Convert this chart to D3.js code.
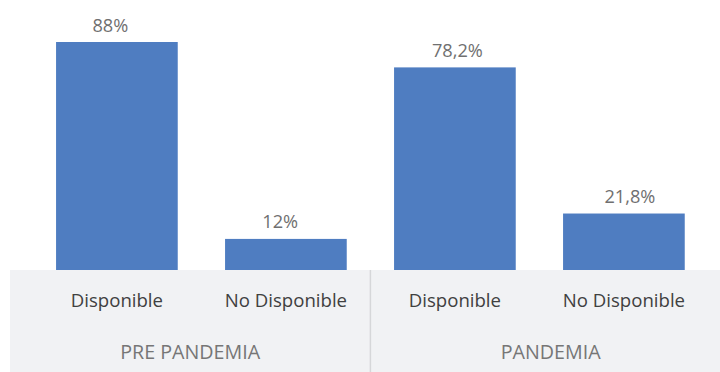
<!DOCTYPE html>
<html>
<head>
<meta charset="utf-8">
<script src="https://cdn.jsdelivr.net/npm/d3@7"></script>
<style>
  html, body { margin: 0; padding: 0; background: #ffffff; }
  svg { display: block; font-family: "Open Sans", "Noto Sans", sans-serif; }
</style>
</head>
<body>
<svg id="chart" width="720" height="372"></svg>
<script>
// Availability before and during the pandemic (percent)
const groups = ["PRE PANDEMIA", "PANDEMIA"];
const categories = ["Disponible", "No Disponible"];
const values = [88, 12, 78.2, 21.8];
const valueLabels = ["88%", "12%", "78,2%", "21,8%"];

const W = 720, H = 372;
const baseY = 270;      // baseline of bars / top of the category band
const plotTop = 42;     // top of the tallest bar
const bandLeft = 10, bandRight = 731;
// horizontal nudge of each value label relative to its bar centre
const labelDx = [-6.5, -5.7, 2.5, 6];

const rows = values.map((v, i) => ({
  key: i,
  group: groups[Math.floor(i / categories.length)],
  category: categories[i % categories.length],
  value: v,
  label: valueLabels[i]
}));

const svg = d3.select("#chart");

const x = d3.scaleBand()
  .domain(rows.map(d => d.key))
  .range([32.4, 708.4])
  .paddingInner(0.28)
  .paddingOuter(0.14);

const y = d3.scaleLinear()
  .domain([0, 88])
  .range([baseY, plotTop]);

// category band background
svg.append("rect")
  .attr("x", bandLeft).attr("y", baseY)
  .attr("width", bandRight - bandLeft).attr("height", H - baseY)
  .attr("fill", "#f1f2f4");

// group divider
const mid = (x(1) + x.bandwidth() + x(2)) / 2;
svg.append("line")
  .attr("x1", mid).attr("x2", mid)
  .attr("y1", baseY).attr("y2", H)
  .attr("stroke", "#d6d7d9").attr("stroke-width", 1.5);

// bars
svg.append("g").selectAll("rect")
  .data(rows).join("rect")
  .attr("x", d => x(d.key))
  .attr("y", d => y(d.value))
  .attr("width", x.bandwidth())
  .attr("height", d => baseY - y(d.value))
  .attr("fill", "#4f7dc1");

// value labels
svg.append("g").selectAll("text")
  .data(rows).join("text")
  .attr("x", d => x(d.key) + x.bandwidth() / 2 + labelDx[d.key])
  .attr("y", d => y(d.value) - 10.5)
  .attr("text-anchor", "middle")
  .attr("font-size", 18.2)
  .attr("fill", "#707070")
  .text(d => d.label);

// category labels
svg.append("g").selectAll("text")
  .data(rows).join("text")
  .attr("x", d => x(d.key) + x.bandwidth() / 2)
  .attr("y", 307)
  .attr("text-anchor", "middle")
  .attr("font-size", 18.6)
  .attr("fill", "#404040")
  .text(d => d.category);

// group labels, centred on each half of the band
const groupSpans = [[bandLeft, mid], [mid, bandRight]];
svg.append("g").selectAll("text")
  .data(groups).join("text")
  .attr("x", (d, i) => (groupSpans[i][0] + groupSpans[i][1]) / 2)
  .attr("y", 359)
  .attr("text-anchor", "middle")
  .attr("font-size", 19.7)
  .attr("fill", "#767676")
  .text(d => d);
</script>
</body>
</html>
